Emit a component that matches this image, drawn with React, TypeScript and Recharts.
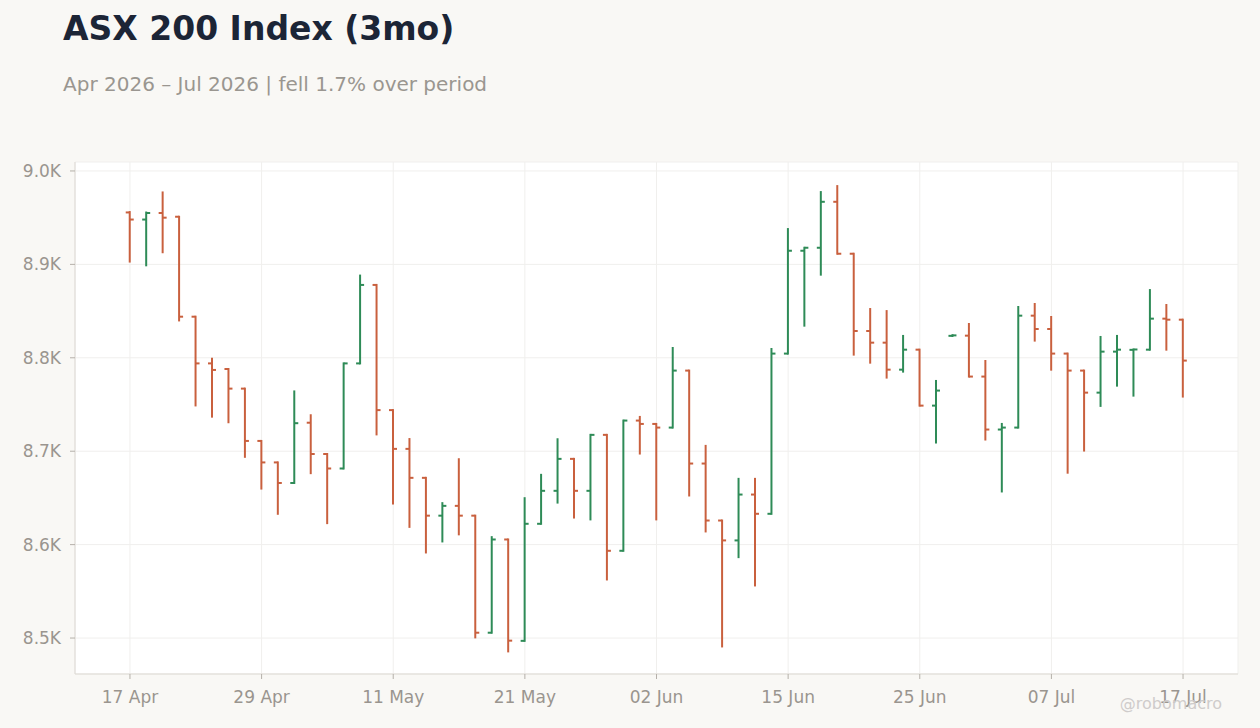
import { ComposedChart, Bar, XAxis, YAxis, CartesianGrid } from "recharts";

// trading days, 17 Apr – 17 Jul 2026 (ASX closed 8 Jun)
const dates = [
  "17 Apr", "20 Apr", "21 Apr", "22 Apr", "23 Apr", "24 Apr", "27 Apr", "28 Apr",
  "29 Apr", "30 Apr", "01 May", "04 May", "05 May", "06 May", "07 May", "08 May",
  "11 May", "12 May", "13 May", "14 May", "15 May", "18 May", "19 May", "20 May",
  "21 May", "22 May", "25 May", "26 May", "27 May", "28 May", "29 May", "01 Jun",
  "02 Jun", "03 Jun", "04 Jun", "05 Jun", "09 Jun", "10 Jun", "11 Jun", "12 Jun",
  "15 Jun", "16 Jun", "17 Jun", "18 Jun", "19 Jun", "22 Jun", "23 Jun", "24 Jun",
  "25 Jun", "26 Jun", "29 Jun", "30 Jun", "01 Jul", "02 Jul", "03 Jul", "06 Jul",
  "07 Jul", "08 Jul", "09 Jul", "10 Jul", "13 Jul", "14 Jul", "15 Jul", "16 Jul",
  "17 Jul",
];

const opens = [
  8955.6, 8948, 8955, 8951, 8844, 8794, 8788, 8767,
  8711, 8688, 8666, 8730.5, 8697, 8681.5, 8794, 8878,
  8744, 8702.5, 8671.5, 8631, 8641.5, 8631, 8505.7, 8605.5,
  8497, 8622.3, 8657.6, 8691.8, 8657.6, 8717.5, 8593.4, 8732.8,
  8729.2, 8725.3, 8786.3, 8686.8, 8625.8, 8604.5, 8653.6, 8633,
  8804.5, 8914.6, 8917.8, 8967, 8911.4, 8828.7, 8816.2, 8787.3,
  8808.7, 8748.8, 8823.5, 8823.7, 8779.9, 8723.2, 8725.3, 8845.1,
  8830.8, 8804.5, 8786.3, 8762.7, 8806.6, 8808.5, 8808.7, 8841.9,
  8840.8,
];

const highs = [
  8956, 8955.5, 8977, 8951, 8844, 8799, 8788, 8767,
  8711, 8688, 8764, 8738.5, 8697, 8794, 8888, 8878,
  8744, 8713, 8671.5, 8644.4, 8691.4, 8631, 8608, 8605.5,
  8649.7, 8674.7, 8712.8, 8691.8, 8717.5, 8717.5, 8732.8, 8736.7,
  8729.2, 8810.5, 8786.3, 8705.7, 8625.8, 8670.4, 8670.4, 8809.4,
  8937.8, 8917.8, 8977.4, 8983.8, 8911.4, 8852.2, 8850, 8823.4,
  8808.7, 8775.2, 8824.2, 8836.2, 8796.6, 8729.2, 8854.4, 8857.6,
  8843.7, 8804.5, 8786.3, 8822.3, 8823.4, 8808.9, 8872.5, 8856.5,
  8840.8,
];

const lows = [
  8903, 8899, 8913, 8840, 8749, 8737, 8731, 8694,
  8660, 8633, 8666, 8676.5, 8623, 8681.5, 8794, 8718,
  8644, 8619, 8591.6, 8603.4, 8611, 8500.7, 8505.7, 8485.7,
  8497, 8622.3, 8645, 8629, 8627, 8562.7, 8593.4, 8697.5,
  8627, 8725.3, 8652.6, 8614.1, 8491, 8586.6, 8556.3, 8633,
  8804.5, 8834.4, 8889, 8911.4, 8803.4, 8794.8, 8778.8, 8785.2,
  8748.8, 8709.3, 8823.3, 8779.9, 8712.5, 8656.9, 8725.3, 8818.4,
  8787.3, 8677, 8700.7, 8748.5, 8770.2, 8759.5, 8808.7, 8808.7,
  8758.5,
];

const closes = [
  8948, 8955, 8950, 8844, 8794, 8787, 8767, 8711,
  8688, 8666, 8730, 8697, 8681.5, 8794, 8878, 8744,
  8702.5, 8671.5, 8631, 8641.5, 8631, 8505.7, 8605.5, 8497.2,
  8622.3, 8657.6, 8691.8, 8657.6, 8717.5, 8593.4, 8732.8, 8729.2,
  8725.3, 8786.3, 8686.8, 8625.8, 8604.5, 8653.6, 8633, 8804.5,
  8914.6, 8917.8, 8967, 8911.4, 8828.7, 8816.2, 8787.3, 8808.7,
  8748.8, 8764.9, 8824, 8779.9, 8723.2, 8725.3, 8845.1, 8830.8,
  8804.5, 8786.3, 8762.7, 8806.6, 8808.7, 8808.9, 8841.9, 8840.8,
  8797,
];

const xTicks = [0, 8, 16, 24, 32, 40, 48, 56, 64];
const yTicks = [8500, 8600, 8700, 8800, 8900, 9000];

const data = dates.map((d, i) => ({
  i,
  date: d,
  open: opens[i],
  high: highs[i],
  low: lows[i],
  close: closes[i],
  range: [lows[i], highs[i]],
}));

const UP = "#2e8b57";
const DOWN = "#c9603e";
const FONT = "'DejaVu Sans', sans-serif";
const TICK_COLOR = "#9a958f";
const BORDER = "#ddd9d3";
const X_DOMAIN: [number, number] = [-3.34, 67.34];
const Y_DOMAIN: [number, number] = [8461.5, 9009.6];

function OhlcShape(props: any) {
  const { x, y, width, height, payload } = props;
  const cx = x + width / 2;
  const yHigh = Math.min(y, y + height);
  const yLow = Math.max(y, y + height);
  const span = payload.high - payload.low || 1;
  const yOpen = yHigh + ((payload.high - payload.open) / span) * (yLow - yHigh);
  const yClose = yHigh + ((payload.high - payload.close) / span) * (yLow - yHigh);
  const color = payload.close >= payload.open ? UP : DOWN;
  return (
    <g stroke={color} strokeWidth={2}>
      <line x1={cx} x2={cx} y1={yHigh - 1} y2={yLow + 1} />
      <line x1={cx - 4} x2={cx} y1={yOpen} y2={yOpen} />
      <line x1={cx} x2={cx + 4} y1={yClose} y2={yClose} />
    </g>
  );
}

export default function App() {
  return (
    <div
      style={{
        position: "absolute",
        left: 0,
        top: 0,
        width: 1260,
        height: 728,
        background: "#f9f8f5",
        fontFamily: FONT,
        overflow: "hidden",
      }}
    >
      <div
        style={{
          position: "absolute",
          left: 63,
          top: 12,
          fontSize: 33,
          lineHeight: "33px",
          fontWeight: "bold",
          color: "#1c2536",
          whiteSpace: "nowrap",
        }}
      >
        ASX 200 Index (3mo)
      </div>
      <div
        style={{
          position: "absolute",
          left: 63,
          top: 74,
          fontSize: 20,
          lineHeight: "20px",
          color: "#9a9690",
          whiteSpace: "nowrap",
        }}
      >
        Apr 2026 – Jul 2026 | fell 1.7% over period
      </div>

      <ComposedChart
        width={1260}
        height={728}
        data={data}
        margin={{ top: 162, right: 22, bottom: 24, left: 15 }}
        style={{ position: "absolute", left: 0, top: 0 }}
      >
        <CartesianGrid stroke="#f0efed" fill="#ffffff" />
        <XAxis
          dataKey="i"
          type="number"
          domain={X_DOMAIN}
          ticks={xTicks}
          tickFormatter={(v: number) => dates[v] ?? ""}
          height={30}
          tickSize={5}
          tickMargin={12}
          stroke={BORDER}
          tickLine={{ stroke: "#b5b0aa" }}
          tick={{ fill: TICK_COLOR, fontSize: 17, fontFamily: FONT }}
          allowDataOverflow
        />
        <XAxis
          xAxisId="top"
          dataKey="i"
          type="number"
          orientation="top"
          domain={X_DOMAIN}
          height={0}
          tick={false}
          tickLine={false}
          stroke={BORDER}
          allowDataOverflow
        />
        <YAxis
          type="number"
          domain={Y_DOMAIN}
          ticks={yTicks}
          tickFormatter={(v: number) => `${(v / 1000).toFixed(1)}K`}
          width={60}
          tickSize={5}
          tickMargin={9}
          stroke={BORDER}
          tickLine={{ stroke: "#b5b0aa" }}
          tick={{ fill: TICK_COLOR, fontSize: 17, fontFamily: FONT }}
          allowDataOverflow
        />
        <YAxis
          yAxisId="right"
          type="number"
          orientation="right"
          domain={Y_DOMAIN}
          width={0}
          tick={false}
          tickLine={false}
          stroke={BORDER}
          allowDataOverflow
        />
        <Bar
          dataKey="range"
          barSize={8}
          shape={OhlcShape}
          isAnimationActive={false}
        />
      </ComposedChart>

      <div
        style={{
          position: "absolute",
          right: 38,
          top: 696,
          fontSize: 16,
          lineHeight: "16px",
          color: "#cfcccb",
          whiteSpace: "nowrap",
        }}
      >
        @robomacro
      </div>
    </div>
  );
}
